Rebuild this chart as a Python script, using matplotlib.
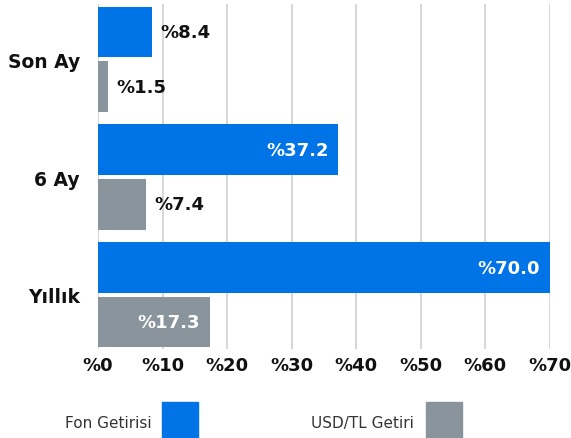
import matplotlib
matplotlib.use('Agg')
from matplotlib import pyplot as plt, patches as pa
import numpy as np

# Data
categories = ['Son Ay', '6 Ay', 'Yıllık']
fon_getirisi = [8.4, 37.2, 70.0]
usd_getiri = [1.5, 7.4, 17.3]
series_names = ['Fon Getirisi', 'USD/TL Getiri']
xticks = [0, 10, 20, 30, 40, 50, 60, 70]

blue = '#0073E6'
gray = '#8A949C'

plt.rcParams['font.family'] = ['DejaVu Sans']

fig = plt.figure(figsize=(5.71, 4.39), dpi=100)
ax = fig.add_axes([98 / 571, 1 - 350 / 439, 452 / 571, 345 / 439])

y = np.arange(len(categories))
h = 0.43
off = 0.232
ax.barh(y - off, fon_getirisi, height=h, color=blue, zorder=3)
ax.barh(y + off, usd_getiri, height=h, color=gray, zorder=3)

# Value labels
for vals, dy in [(fon_getirisi, -off), (usd_getiri, off)]:
    for i, v in enumerate(vals):
        txt = f'%{v:.1f}'
        if v > 10:
            ax.annotate(txt, (v, i + dy), xytext=(-7, 0), textcoords='offset points',
                        ha='right', va='center', color='white', fontsize=13, fontweight='bold', zorder=4)
        else:
            ax.annotate(txt, (v, i + dy), xytext=(6, 0), textcoords='offset points',
                        ha='left', va='center', color='#111111', fontsize=13, fontweight='bold', zorder=4)

ax.set_xlim(0, 70)
ax.set_ylim(2.46, -0.47)
ax.set_xticks(xticks)
ax.set_xticklabels([f'%{t}' for t in xticks], fontsize=13, fontweight='bold', color='#111111')
ax.set_yticks(y)
ax.set_yticklabels(categories, fontsize=13.5, fontweight='bold', color='#111111')
ax.tick_params(axis='both', length=0)
ax.tick_params(axis='x', pad=5)
ax.tick_params(axis='y', pad=13)
for s in ax.spines.values():
    s.set_visible(False)
ax.grid(axis='x', color='#d0d0d0', linewidth=1.2, zorder=0)
ax.set_axisbelow(True)

# Legend at the bottom
legend_items = [(series_names[0], blue, 152, 162), (series_names[1], gray, 414, 426)]
for name, col, tx, bx in legend_items:
    fig.text(tx / 571, 1 - 424 / 439, name, ha='right', va='center', fontsize=11, color='#333333')
    fig.patches.append(pa.Rectangle((bx / 571, 0), 36 / 571, 36 / 439,
                                    transform=fig.transFigure, color=col, figure=fig))

fig.savefig('out.png', dpi=100)
